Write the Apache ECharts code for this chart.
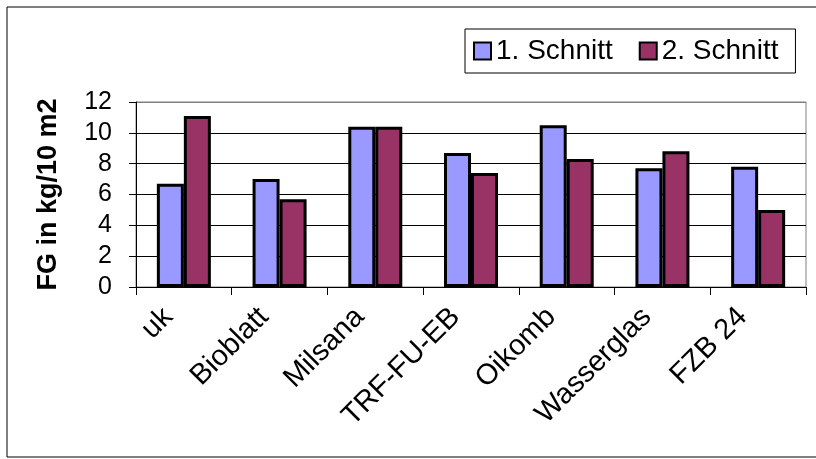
<!DOCTYPE html>
<html>
<head>
<meta charset="utf-8">
<script src="https://cdn.jsdelivr.net/npm/echarts@6/dist/echarts.min.js"></script>
<style>
  html, body { margin: 0; padding: 0; background: #fff; }
  #chart { width: 816px; height: 459px; }
</style>
</head>
<body>
<div id="chart"></div>
<script>
// data
const categories = ['uk', 'Bioblatt', 'Milsana', 'TRF-FU-EB', 'Oikomb', 'Wasserglas', 'FZB 24'];
const schnitt1 = [6.7, 7.0, 10.4, 8.7, 10.5, 7.7, 7.8];
const schnitt2 = [11.1, 5.7, 10.4, 7.4, 8.3, 8.8, 5.0];
const seriesNames = ['1. Schnitt', '2. Schnitt'];
const yTicks = { min: 0, max: 12, interval: 2 };

const font = '"Liberation Sans", Arial, sans-serif';

const chart = echarts.init(document.getElementById('chart'));

const options = {
  animation: false,
  backgroundColor: '#fff',
  graphic: [{
    type: 'rect',
    shape: { x: 7, y: 7, width: 830, height: 450 },
    style: { fill: 'none', stroke: '#000', lineWidth: 1 },
    silent: true
  }],
  grid: {
    left: 136, right: 10, top: 102, bottom: 172,
    show: true, borderColor: '#808080', borderWidth: 1
  },
  legend: {
    left: 465, top: 29,
    padding: [8, 17, 8, 8],
    borderColor: '#000', borderWidth: 1,
    itemWidth: 17, itemHeight: 17, itemGap: 26,
    icon: 'rect',
    textStyle: { fontFamily: font, fontSize: 28, color: '#000' },
    data: seriesNames
  },
  xAxis: {
    type: 'category',
    data: categories,
    axisLine: { lineStyle: { color: '#000', width: 1 } },
    axisTick: { show: true, length: 8, lineStyle: { color: '#000' } },
    axisLabel: {
      interval: 0, rotate: 45, margin: 10,
      padding: [0, 22, 0, 0],
      fontFamily: font, fontSize: 29, color: '#000'
    }
  },
  yAxis: {
    type: 'value',
    min: yTicks.min, max: yTicks.max, interval: yTicks.interval,
    name: 'FG in kg/10 m2',
    nameLocation: 'middle', nameRotate: 90, nameGap: 74,
    nameTextStyle: { fontFamily: font, fontSize: 27, fontWeight: 'bold', color: '#000' },
    axisLine: { show: true, lineStyle: { color: '#000' } },
    axisTick: { show: true, length: 7, lineStyle: { color: '#000' } },
    axisLabel: { margin: 24, fontFamily: font, fontSize: 25, color: '#000' },
    splitLine: {
      show: true,
      lineStyle: { color: ['#000', '#000', '#000', '#000', '#000', '#000', '#808080'], width: 1 }
    }
  },
  series: [
    {
      name: seriesNames[0], type: 'bar', data: schnitt1,
      barWidth: 27, barGap: '0%',
      itemStyle: { color: '#9999FF', borderColor: '#000', borderWidth: 3 }
    },
    {
      name: seriesNames[1], type: 'bar', data: schnitt2,
      barWidth: 27,
      itemStyle: { color: '#993366', borderColor: '#000', borderWidth: 3 }
    }
  ]
};

chart.setOption(options);
</script>
</body>
</html>
